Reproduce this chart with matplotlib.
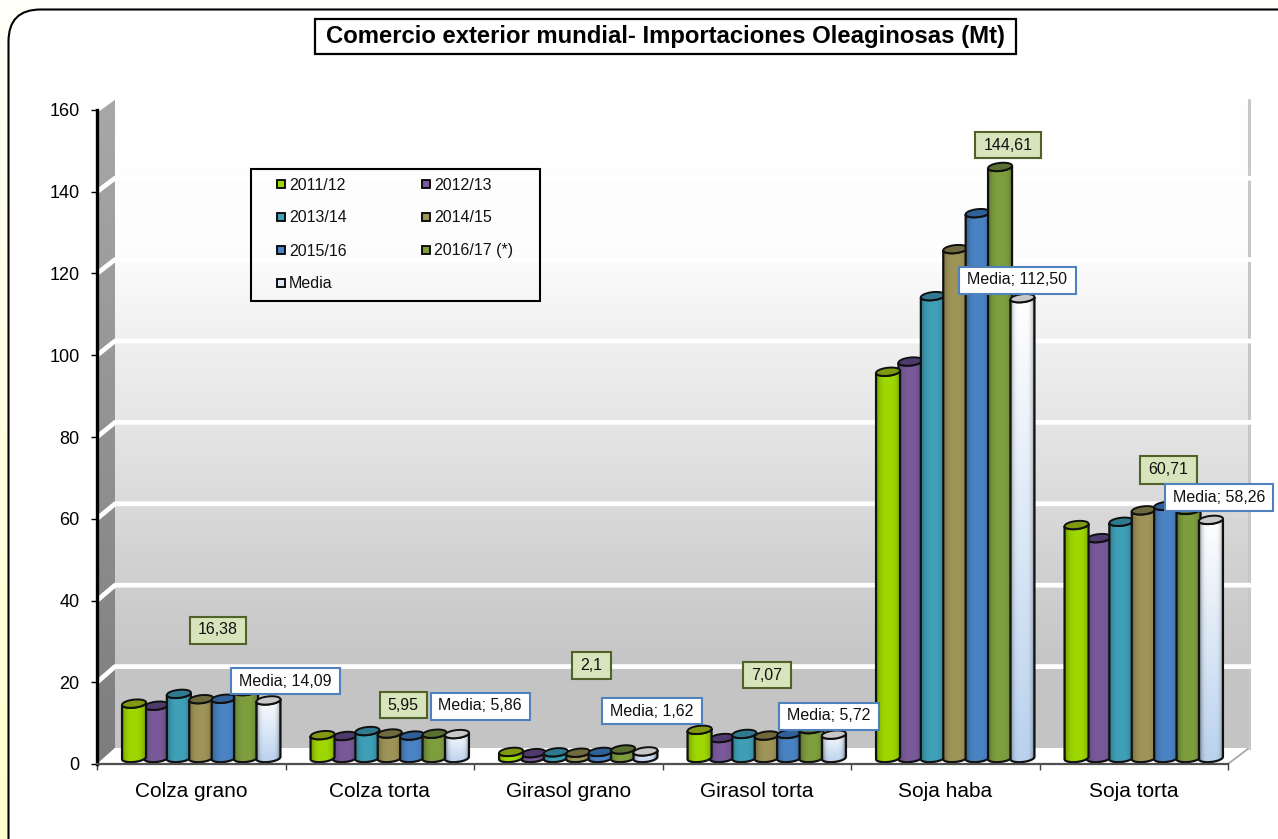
import numpy as np
import matplotlib
matplotlib.use("Agg")
import matplotlib.pyplot as plt
from matplotlib.patches import FancyBboxPatch, Polygon, Rectangle

plt.rcParams['font.family'] = ['Liberation Sans', 'DejaVu Sans']

# Datos
productos = ["Colza grano", "Colza torta", "Girasol grano", "Girasol torta", "Soja haba", "Soja torta"]
campanas = ["2011/12", "2012/13", "2013/14", "2014/15", "2015/16", "2016/17 (*)", "Media"]

v_1112 = [13.3, 5.6, 1.5, 6.9, 94.5, 57.0]
v_1213 = [12.8, 5.4, 1.2, 4.9, 97.0, 53.8]
v_1314 = [15.7, 6.6, 1.4, 5.9, 113.0, 57.8]
v_1415 = [14.4, 6.0, 1.3, 5.5, 124.5, 60.6]
v_1516 = [14.5, 5.5, 1.5, 5.9, 133.3, 61.7]
v_1617 = [16.38, 5.95, 2.1, 7.07, 144.61, 60.71]
v_media = [14.09, 5.86, 1.62, 5.72, 112.50, 58.26]
series = [v_1112, v_1213, v_1314, v_1415, v_1516, v_1617, v_media]

y_ticks = [0, 20, 40, 60, 80, 100, 120, 140, 160]

colores = ["#9FD800", "#7A5A9A", "#3FA0B8", "#A09558", "#4A84C4", "#7F9F3F", "#DCE8F6"]
tapas = ["#7F9A10", "#4F3A70", "#2F7A90", "#6F6A3E", "#2F6099", "#5A7030", "#C8C8C8"]

# Cajas de etiquetas en pixeles: centro x, centro y, ancho, alto
cajas_ultima = [(218, 630, 56, 27), (403, 705, 47, 26), (591, 665, 39, 27),
                (767, 675, 48, 26), (1008, 145, 66, 26), (1168, 470, 57, 28)]
cajas_media = [(285, 681, 109, 26), (480, 706, 99, 27), (652, 711, 100, 26),
               (829, 716, 100, 27), (1017, 280, 117, 27), (1219, 497, 108, 27)]

W, H = 1278, 839
PX_X = 1131 / 6      # pixeles por categoria
PX_Y = 654 / 160     # pixeles por unidad


def rgb(c):
    return np.array(matplotlib.colors.to_rgb(c))


def cilindro(ax, x_c, valor, idx, z):
    """Dibuja un cilindro con gradiente, de base a valor"""
    ancho = 24 / PX_X
    base = 6 / PX_Y
    ry = 4 / PX_Y
    tilt = 1.2 / PX_Y
    top = base + valor
    x0, x1 = x_c - ancho / 2, x_c + ancho / 2

    t = np.linspace(0, np.pi, 40)
    ex = np.cos(t) * ancho / 2 + x_c
    abajo = base - ry * np.sin(t) + tilt * np.cos(t)
    # cuerpo: lado inferior de izquierda a derecha, luego arco frontal de la tapa
    cuerpo = np.vstack([np.column_stack([ex[::-1], abajo[::-1]]),
                        np.column_stack([ex, top - ry * np.sin(t) + tilt * np.cos(t)])])
    body = Polygon(cuerpo, closed=True, fc="none", ec="none", zorder=z)
    ax.add_patch(body)

    n = 48
    s = np.linspace(-1, 1, n)
    sombra = 1 - 0.28 * np.abs(s) ** 3
    if idx == 6:
        # la media va de blanco (arriba) a azul claro (abajo)
        alto = 40
        f = np.linspace(0, 1, alto)[:, None, None]
        img = (1 - f) * rgb("#FFFFFF") + f * rgb("#BAD2EE")
        img = np.repeat(img, n, axis=1) * (1 - 0.55 * np.abs(s) ** 5)[None, :, None]
    else:
        img = (rgb(colores[idx]) * sombra[:, None])[None, :, :]
    im = ax.imshow(img, extent=(x0, x1, base - ry - tilt, top + ry), origin="upper",
                   aspect="auto", interpolation="bilinear", zorder=z)
    im.set_clip_path(body)

    ax.add_patch(Polygon(cuerpo, closed=True, fc="none", ec="#101010", lw=1.6, zorder=z + 0.2))
    tx = np.cos(np.linspace(0, 2 * np.pi, 60))
    ts = np.sin(np.linspace(0, 2 * np.pi, 60))
    tapa = np.column_stack([x_c + tx * ancho / 2, top + ry * ts + tilt * tx])
    ax.add_patch(Polygon(tapa, closed=True, fc=tapas[idx], ec="#101010", lw=1.4, zorder=z + 0.3))


fig = plt.figure(figsize=(W / 100, H / 100), dpi=100)

# Fondo y marco redondeado
bg = fig.add_axes([0, 0, 1, 1], zorder=0)
bg.set_xlim(0, W)
bg.set_ylim(H, 0)
bg.axis("off")
grad = np.linspace(0, 1, 100)[:, None, None] * (rgb("#FFFFCC") - rgb("#FFFFF8")) + rgb("#FFFFF8")
bg.imshow(grad, extent=(0, W, H, 0), aspect="auto")
bg.set_xlim(0, W)
bg.set_ylim(H, 0)
bg.add_patch(FancyBboxPatch((8.5, 9.5), 1320, 880, boxstyle="round,pad=0,rounding_size=32",
                            fc="white", ec="black", lw=1.5))

# Grafico
ax = fig.add_axes([97 / W, (H - 764) / H, 1131 / W, 654 / H], zorder=1)
ax.patch.set_alpha(0)

dx_izq = 18 / PX_X
dx_der = 21 / PX_X
y_fondo = 16 / PX_Y
esc_fondo = 81.4 / 20 / PX_Y


def en_fondo(v):
    return y_fondo + v * esc_fondo


y_techo = en_fondo(160)

# pared del fondo
paradas_y = [97, 250, 340, 450, 560, 680, 748]
paradas_g = [255, 253, 240, 226, 210, 196, 196]
filas = np.linspace(97, 748, 200)
gris = np.interp(filas, paradas_y, paradas_g)[:, None, None] / 255
ax.imshow(np.repeat(gris, 3, axis=2), extent=(dx_izq, 6 + dx_der, y_fondo, y_techo),
          origin="upper", aspect="auto", zorder=1, clip_on=False)

# pared izquierda
pared = Polygon([(0, 0), (dx_izq, y_fondo), (dx_izq, y_techo), (0, 160)], closed=True,
                fc="none", ec="none", zorder=1, clip_on=False)
ax.add_patch(pared)
g2 = np.linspace(0.66, 0.49, 100)[:, None, None]
im = ax.imshow(np.repeat(g2, 3, axis=2), extent=(0, dx_izq, 0, y_techo), origin="upper",
               aspect="auto", zorder=1)
im.set_clip_path(pared)
im.set_clip_box(fig.bbox)

# suelo
ax.add_patch(Polygon([(0, 0), (6, 0), (6 + dx_der, y_fondo), (dx_izq, y_fondo)], closed=True,
                     fc="white", ec="none", zorder=2, clip_on=False))
ax.plot([6, 6 + dx_der], [0, y_fondo], color="#A8A8A8", lw=1.3, zorder=2, clip_on=False)

# borde derecho de la pared
ax.plot([6 + dx_der] * 2, [y_fondo, y_techo], color="#C8C8C8", lw=2.2, zorder=2, clip_on=False)

# lineas de division
for v in y_ticks[1:]:
    ax.plot([0, dx_izq, 6 + dx_der + 3 / PX_X], [v, en_fondo(v), en_fondo(v)], color="white",
            lw=3.4, zorder=3, solid_capstyle="butt", clip_on=False)

# Barras
orden = [1, 2, 3, 4, 5, 0, 6]
paso = 22.4 / PX_X
desplaz = 10 / PX_X
for g in range(len(productos)):
    for k, i in enumerate(orden):
        x_c = g + 0.5 + desplaz + (i - 3) * paso
        cilindro(ax, x_c, series[i][g], i, 5 + k + g * 10)

ax.set_xlim(0, 6)
ax.set_ylim(0, 160)

for lado in ["top", "right"]:
    ax.spines[lado].set_visible(False)
ax.spines["left"].set_linewidth(2.4)
ax.spines["left"].set_color("black")
ax.spines["bottom"].set_linewidth(1.6)
ax.spines["bottom"].set_color("#505050")
for sp in ax.spines.values():
    sp.set_zorder(90)

ax.set_yticks(y_ticks)
ax.tick_params(axis="y", length=4.5, width=1, pad=8, labelsize=13)
ax.set_xticks(range(7))
ax.set_xticklabels([])
ax.set_xticks(np.arange(6) + 0.5, minor=True)
ax.set_xticklabels(productos, minor=True)
ax.tick_params(axis="x", which="major", length=4.5, width=1, color="#404040")
ax.tick_params(axis="x", which="minor", length=0, pad=13, labelsize=15)

# Capa en pixeles para titulo, leyenda y etiquetas
top = fig.add_axes([0, 0, 1, 1], zorder=2)
top.set_xlim(0, W)
top.set_ylim(H, 0)
top.axis("off")

top.add_patch(Rectangle((314.5, 19), 701, 35, fc="white", ec="black", lw=1.6))
top.text(665, 36.5, "Comercio exterior mundial- Importaciones Oleaginosas (Mt)",
         ha="center", va="center", fontsize=17.2, fontweight="bold", color="black")

# Leyenda
top.add_patch(Rectangle((250.5, 168.5), 289, 132, fc="none", ec="black", lw=1.5))
for i, nombre in enumerate(campanas):
    x_l = 276 + 145 * (i % 2)
    y_l = 184 + 33 * (i // 2)
    top.add_patch(Rectangle((x_l + 1, y_l - 4), 8, 8, fc=colores[i], ec="black", lw=1.3))
    top.text(x_l + 13, y_l + 1, nombre, ha="left", va="center", fontsize=11.5, color="#111111")


def formato(v):
    return str(v).replace(".", ",")


for g in range(len(productos)):
    cx, cy, w, h = cajas_ultima[g]
    top.add_patch(Rectangle((cx - w / 2, cy - h / 2), w, h, fc="#D8E4BC", ec="#4F6228", lw=1.5))
    top.text(cx, cy, formato(v_1617[g]), ha="center", va="center", fontsize=11.5, color="#111111")
    cx, cy, w, h = cajas_media[g]
    top.add_patch(Rectangle((cx - w / 2, cy - h / 2), w, h, fc="white", ec="#4F81BD", lw=1.5))
    media_txt = ("%.2f" % v_media[g]).replace(".", ",")
    top.text(cx, cy, "Media; " + media_txt, ha="center", va="center", fontsize=11.5, color="#111111")

fig.savefig("out.png", dpi=100)
